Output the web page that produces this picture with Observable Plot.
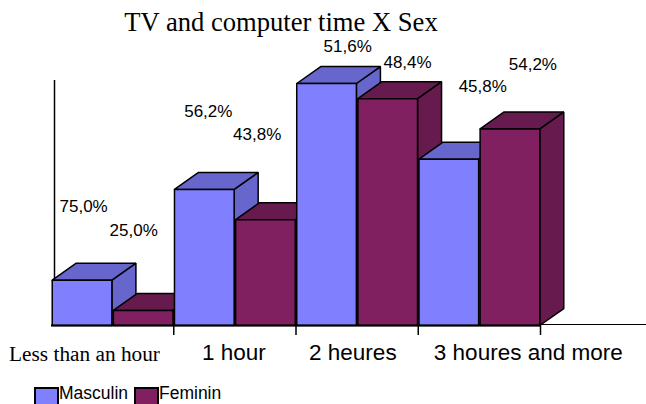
<!DOCTYPE html>
<html>
<head>
<meta charset="utf-8">
<script src="https://cdn.jsdelivr.net/npm/d3@7"></script>
<script src="https://cdn.jsdelivr.net/npm/@observablehq/plot@0.6"></script>
<style>
  html, body { margin: 0; padding: 0; background: #fff; overflow: hidden; }
  #page { position: relative; width: 646px; height: 404px; overflow: hidden; }
  #title { position: absolute; left: 0; top: 7px; width: 562px; text-align: center;
           font: 26.6px "Liberation Serif", serif; color: #000; white-space: nowrap; }
  .key { position: absolute; top: 387px; display: flex; font: 17.5px/1 "Liberation Sans", sans-serif; color: #000; }
  .key i { display: block; width: 25px; height: 24px; box-sizing: border-box; border: 2px solid #000; }
  .key span { margin-left: 0; margin-top: -2px; }
  svg { display: block; }
</style>
</head>
<body>
<div id="page">
  <div id="title">TV and computer time X Sex</div>
  <div id="chart"></div>
  <div class="key" style="left:34px"><i style="background:#8080ff"></i><span>Masculin</span></div>
  <div class="key" style="left:134px"><i style="background:#802060"></i><span>Feminin</span></div>
</div>
<script>
// Data (counts behind the printed percentages)
const categories = ["Less than an hour", "1 hour", "2 heures", "3 houres and more"];
const masculin = [3, 9, 16, 11];
const feminin  = [1, 7, 15, 13];
const labelsMasculin = ["75,0%", "56,2%", "51,6%", "45,8%"];
const labelsFeminin  = ["25,0%", "43,8%", "48,4%", "54,2%"];

// Where the percentage labels float, in data units
const labelXMasculin = [0.525, 2.565, 4.845, 7.055];
const labelYMasculin = [7.87, 14.14, 18.44, 15.8];
const labelXFeminin  = [1.345, 3.365, 5.825, 7.875];
const labelYFeminin  = [6.28, 12.62, 17.38, 17.25];
const categoryLabelX = [0.54, 2.985, 4.93, 7.8];

// Oblique depth of the 3D bars, in data units
const depthX = 0.393, depthY = 1.12, inset = 0.012;
const colors = {
  masculin: { front: "#8080ff", shade: "#6666cc" },
  feminin:  { front: "#802060", shade: "#661a4d" }
};

// Faces of each bar, painted left to right
const faces = [];
function addFace(id, color, pts) {
  pts.concat([pts[0]]).forEach(([x, y]) => faces.push({ id, color, x, y }));
}
categories.forEach((_, i) => {
  [["masculin", masculin[i], 2 * i], ["feminin", feminin[i], 2 * i + 1]].forEach(([s, v, x0]) => {
    const a = x0 + inset, b = x0 + 1 - inset, c = colors[s];
    addFace(`${x0}-side`, c.shade, [[b, 0], [b + depthX, depthY], [b + depthX, v + depthY], [b, v]]);
    addFace(`${x0}-top`, c.shade, [[a, v], [a + depthX, v + depthY], [b + depthX, v + depthY], [b, v]]);
    addFace(`${x0}-front`, c.front, [[a, 0], [b, 0], [b, v], [a, v]]);
  });
});

const pctLabels = [
  ...labelsMasculin.map((t, i) => ({ t, x: labelXMasculin[i], y: labelYMasculin[i] })),
  ...labelsFeminin.map((t, i) => ({ t, x: labelXFeminin[i], y: labelYFeminin[i] }))
];
const catLabels = categories.map((t, i) => ({ t, x: categoryLabelX[i] }));

const chart = Plot.plot({
  width: 646, height: 404,
  marginLeft: 51, marginRight: 106, marginTop: 83, marginBottom: 79,
  x: { domain: [0, 8], axis: null },
  y: { domain: [0, 16], axis: null },
  color: { type: "identity" },
  style: { background: "#fff", color: "#000", overflow: "hidden" },
  marks: [
    Plot.ruleX([0], { y1: 0, y2: 16.2, dx: 3, stroke: "#000", strokeWidth: 1.5 }),
    Plot.ruleY([0], { x1: 8, x2: 9.74, dy: -1, stroke: "#000", strokeWidth: 1 }),
    Plot.line(faces, {
      x: "x", y: "y", z: "id", fill: "color",
      stroke: "#000", strokeWidth: 1.5, strokeLinejoin: "miter", curve: "linear"
    }),
    Plot.ruleY([0], { x1: 0, x2: 8, stroke: "#000", strokeWidth: 2 }),
    Plot.axisX({ ticks: [2, 4, 6, 8], tickSize: 10, tickFormat: () => "", strokeWidth: 1.5, stroke: "#000", label: null }),
    Plot.text(pctLabels, {
      x: "x", y: "y", text: "t", fontSize: 17, fill: "#000",
      fontFamily: "Liberation Sans, sans-serif"
    }),
    Plot.text(catLabels.slice(0, 1), {
      x: "x", y: () => 0, dy: 29, text: "t", fontSize: 21.3, fill: "#000",
      fontFamily: "Liberation Serif, serif"
    }),
    Plot.text(catLabels.slice(1), {
      x: "x", y: () => 0, dy: 27, text: "t", fontSize: 22.5, fill: "#000",
      fontFamily: "Liberation Sans, sans-serif"
    })
  ]
});
document.getElementById("chart").appendChild(chart);
</script>
</body>
</html>
